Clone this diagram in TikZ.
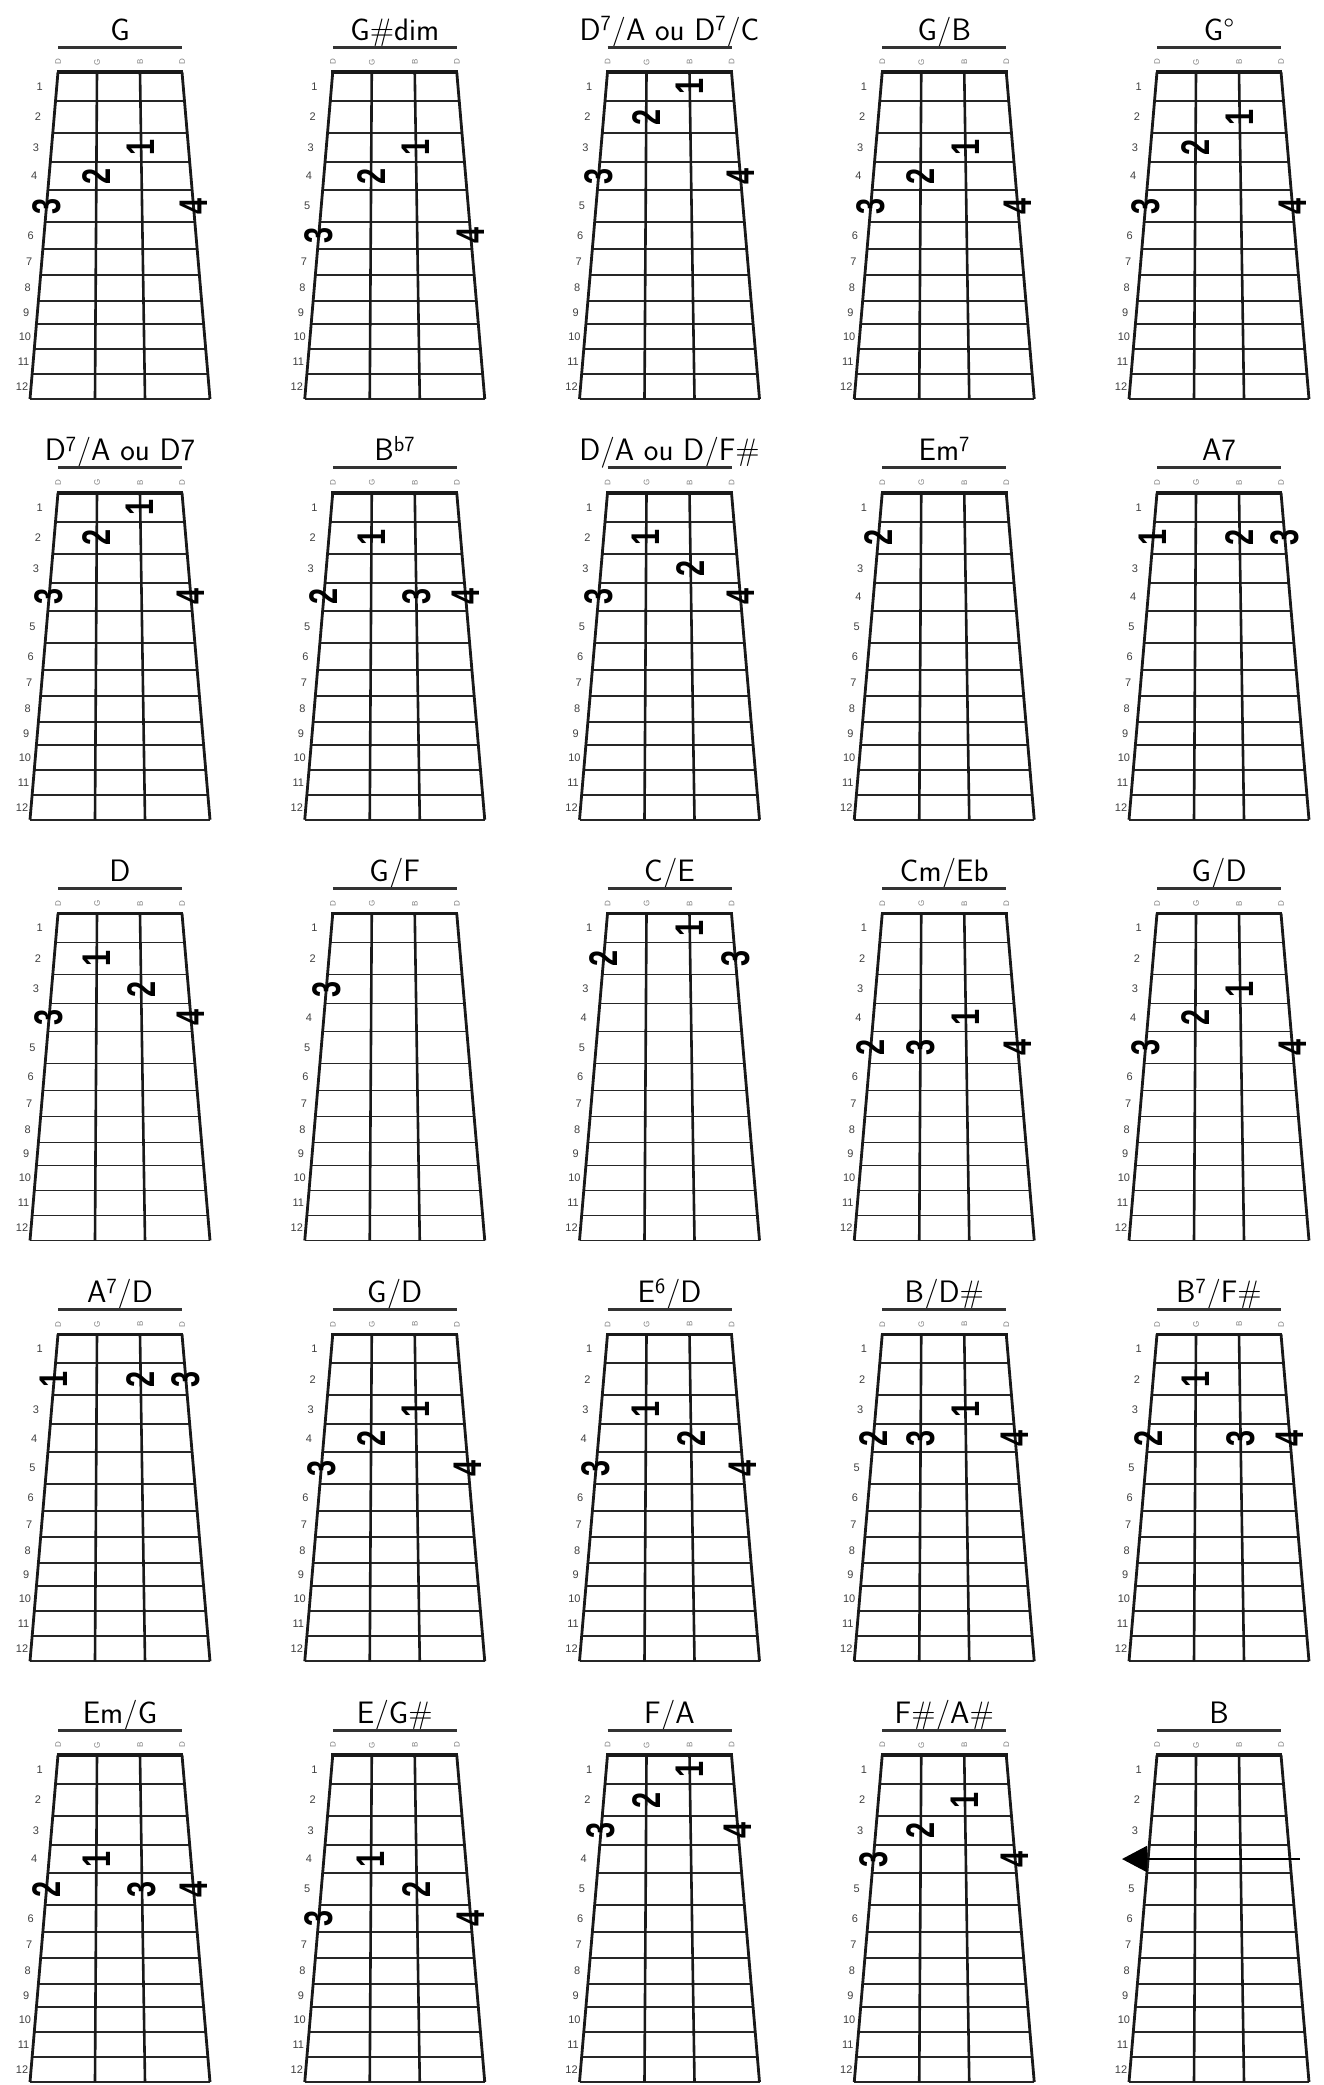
\documentclass[tikz,border=0pt]{standalone}
\usepackage{fontspec}
\usepackage{graphicx}
\usetikzlibrary{arrows.meta}
\newfontfamily\labfont{Liberation Sans}
\newfontfamily\fingfont{Liberation Sans}
\newcounter{fg}
\def\fretmid{{14.5,45,75.5,104,134,163.5,190,216,240.5,264.5,289.5,314.5}}
\def\strtop{{0,39,82,124}}
\def\strslope{{-28,-2,5,28}}
\tikzset{
 nutline/.style={line width=3.5pt, draw=black!90},
 edgeline/.style={line width=2.8pt, draw=black!90},
 strline/.style={line width=2.6pt, draw=black!90},
 fretline/.style={line width=1.8pt, draw=black!85},
 uline/.style={line width=3pt, draw=black!80},
 titletext/.style={anchor=base, font=\sffamily\fontsize{31}{31}\selectfont, inner sep=0pt},
 fretlab/.style={font=\labfont\fontsize{11}{11}\selectfont, text=black!75, inner sep=0pt},
 strlab/.style={font=\labfont\fontsize{8}{8}\selectfont, text=black!50, inner sep=0pt, rotate=90},
 fingertext/.style={rotate=90, inner sep=0pt, font=\fingfont\bfseries\fontsize{40}{40}\selectfont},
 barre/.style={line width=2pt, draw=black, -{Triangle[length=25pt,width=26pt]}}
}
\newcommand\fing[3]{%
 \pgfmathsetmacro\fm{\fretmid[#2-1]}%
 \pgfmathsetmacro\fx{\strtop[#1-1]+\strslope[#1-1]*\fm/327}%
 \stepcounter{fg}%
 \node[fingertext] (fg\arabic{fg}) at (\fx,\fm) {\scalebox{0.72}[1]{#3}};}
\newcommand\chart[5]{%
\begin{scope}[shift={({58+274.75*#1},{72+420.75*#2})}]
 \node[titletext] (t-#1-#2) at (62,-32) {#3};
 \draw[uline] (0,-25) -- (124,-25);
 \foreach \i/\n in {1/D,2/G,3/B,4/D} {\pgfmathsetmacro\sx{\strtop[\i-1]}\node[strlab] (s-#1-#2-\i) at (\sx,-10) {\n};}
 \foreach \y in {29,61,90,118,150,177,203,229,252,277,302,327} {\draw[fretline] ({-28*\y/327},\y) -- ({124+28*\y/327},\y);}
 \draw[strline] (39,0) -- (37,327);
 \draw[strline] (82,0) -- (87,327);
 \draw[edgeline] (0,0) -- (-28,327);
 \draw[edgeline] (124,0) -- (152,327);
 \draw[nutline] (-1.4,0) -- (125.4,0);
 \foreach \f in {#4} {\pgfmathsetmacro\m{\fretmid[\f-1]}\pgfmathsetmacro\lx{-28*\m/327-17+(\f-1)*8/11}\node[fretlab] (l-#1-#2-\f) at (\lx,\m) {\f};}
 #5
\end{scope}}
\begin{document}
\begin{tikzpicture}[x=1pt,y=-1pt]
\useasboundingbox (0,0) rectangle (1324,2085);
% row 1
\chart{0}{0}{G}{1,2,3,4,6,7,8,9,10,11,12}{\fing{3}{3}{1}\fing{2}{4}{2}\fing{1}{5}{3}\fing{4}{5}{4}}
\chart{1}{0}{G\#dim}{1,2,3,4,5,7,8,9,10,11,12}{\fing{3}{3}{1}\fing{2}{4}{2}\fing{1}{6}{3}\fing{4}{6}{4}}
\chart{2}{0}{D\textsuperscript{7}/A ou D\textsuperscript{7}/C}{1,2,3,5,6,7,8,9,10,11,12}{\fing{3}{1}{1}\fing{2}{2}{2}\fing{1}{4}{3}\fing{4}{4}{4}}
\chart{3}{0}{G/B}{1,2,3,4,6,7,8,9,10,11,12}{\fing{3}{3}{1}\fing{2}{4}{2}\fing{1}{5}{3}\fing{4}{5}{4}}
\chart{4}{0}{G°}{1,2,3,4,6,7,8,9,10,11,12}{\fing{3}{2}{1}\fing{2}{3}{2}\fing{1}{5}{3}\fing{4}{5}{4}}
% row 2
\chart{0}{1}{D\textsuperscript{7}/A ou D7}{1,2,3,5,6,7,8,9,10,11,12}{\fing{3}{1}{1}\fing{2}{2}{2}\fing{1}{4}{3}\fing{4}{4}{4}}
\chart{1}{1}{B\textsuperscript{b7}}{1,2,3,5,6,7,8,9,10,11,12}{\fing{2}{2}{1}\fing{1}{4}{2}\fing{3}{4}{3}\fing{4}{4}{4}}
\chart{2}{1}{D/A ou D/F\#}{1,2,3,5,6,7,8,9,10,11,12}{\fing{2}{2}{1}\fing{3}{3}{2}\fing{1}{4}{3}\fing{4}{4}{4}}
\chart{3}{1}{Em\textsuperscript{7}}{1,3,4,5,6,7,8,9,10,11,12}{\fing{1}{2}{2}}
\chart{4}{1}{A7}{1,3,4,5,6,7,8,9,10,11,12}{\fing{1}{2}{1}\fing{3}{2}{2}\fing{4}{2}{3}}
% row 3
\chart{0}{2}{D}{1,2,3,5,6,7,8,9,10,11,12}{\fing{2}{2}{1}\fing{3}{3}{2}\fing{1}{4}{3}\fing{4}{4}{4}}
\chart{1}{2}{G/F}{1,2,4,5,6,7,8,9,10,11,12}{\fing{1}{3}{3}}
\chart{2}{2}{C/E}{1,3,4,5,6,7,8,9,10,11,12}{\fing{3}{1}{1}\fing{1}{2}{2}\fing{4}{2}{3}}
\chart{3}{2}{Cm/Eb}{1,2,3,4,6,7,8,9,10,11,12}{\fing{3}{4}{1}\fing{1}{5}{2}\fing{2}{5}{3}\fing{4}{5}{4}}
\chart{4}{2}{G/D}{1,2,3,4,6,7,8,9,10,11,12}{\fing{3}{3}{1}\fing{2}{4}{2}\fing{1}{5}{3}\fing{4}{5}{4}}
% row 4
\chart{0}{3}{A\textsuperscript{7}/D}{1,3,4,5,6,7,8,9,10,11,12}{\fing{1}{2}{1}\fing{3}{2}{2}\fing{4}{2}{3}}
\chart{1}{3}{G/D}{1,2,3,4,6,7,8,9,10,11,12}{\fing{3}{3}{1}\fing{2}{4}{2}\fing{1}{5}{3}\fing{4}{5}{4}}
\chart{2}{3}{E\textsuperscript{6}/D}{1,2,3,4,6,7,8,9,10,11,12}{\fing{2}{3}{1}\fing{3}{4}{2}\fing{1}{5}{3}\fing{4}{5}{4}}
\chart{3}{3}{B/D\#}{1,2,3,5,6,7,8,9,10,11,12}{\fing{3}{3}{1}\fing{1}{4}{2}\fing{2}{4}{3}\fing{4}{4}{4}}
\chart{4}{3}{B\textsuperscript{7}/F\#}{1,2,3,5,6,7,8,9,10,11,12}{\fing{2}{2}{1}\fing{1}{4}{2}\fing{3}{4}{3}\fing{4}{4}{4}}
% row 5
\chart{0}{4}{Em/G}{1,2,3,4,6,7,8,9,10,11,12}{\fing{2}{4}{1}\fing{1}{5}{2}\fing{3}{5}{3}\fing{4}{5}{4}}
\chart{1}{4}{E/G\#}{1,2,3,4,5,7,8,9,10,11,12}{\fing{2}{4}{1}\fing{3}{5}{2}\fing{1}{6}{3}\fing{4}{6}{4}}
\chart{2}{4}{F/A}{1,2,4,5,6,7,8,9,10,11,12}{\fing{3}{1}{1}\fing{2}{2}{2}\fing{1}{3}{3}\fing{4}{3}{4}}
\chart{3}{4}{F\#/A\#}{1,2,3,5,6,7,8,9,10,11,12}{\fing{3}{2}{1}\fing{2}{3}{2}\fing{1}{4}{3}\fing{4}{4}{4}}
\chart{4}{4}{B}{1,2,3,5,6,7,8,9,10,11,12}{\coordinate (barR) at (143,104); \coordinate (barL) at (-35,104); \draw[barre] (barR) -- (barL);}
\end{tikzpicture}
\end{document}
